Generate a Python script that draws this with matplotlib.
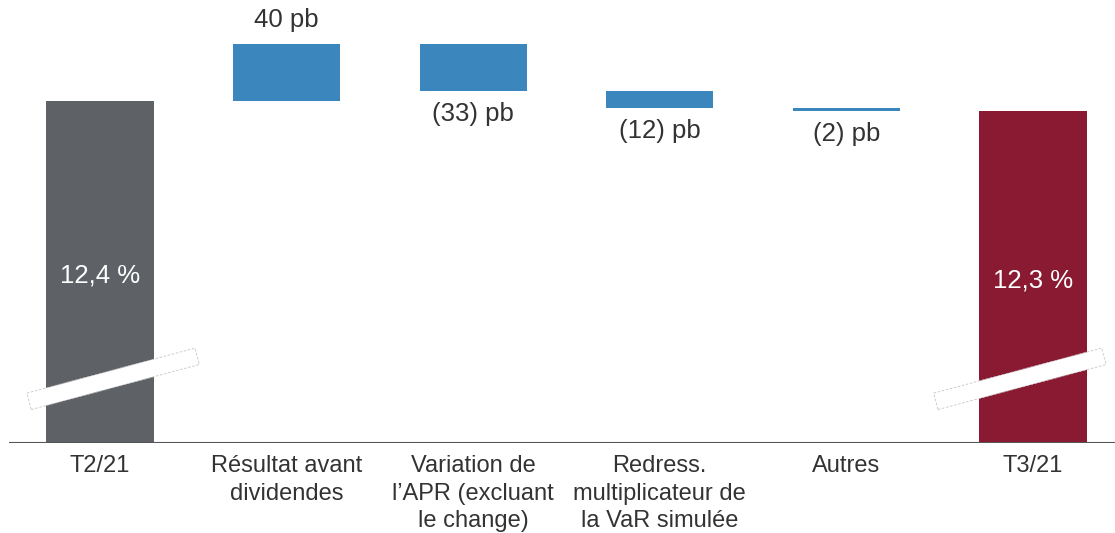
import matplotlib.pyplot as plt
import matplotlib.transforms as mtransforms
from matplotlib.patches import Rectangle

plt.rcParams['font.family'] = ['Liberation Sans', 'DejaVu Sans']

# data (ratio in %, deltas in pb)
categories = ['T2/21', 'Résultat avant\ndividendes', 'Variation de\nl\u2019APR (excluant\nle change)',
              'Redress.\nmultiplicateur de\nla VaR simulée', 'Autres', 'T3/21']
start_value = 12.4
end_value = 12.3
deltas_pb = [40, -33, -12, -2]
value_labels = ['12,4 %', '40 pb', '(33) pb', '(12) pb', '(2) pb', '12,3 %']

grey = '#5e6165'
red = '#8a1a32'
blue = '#3a86bd'
y_base = 10.0

fig = plt.figure(figsize=(11.15, 5.33), dpi=100)
ax = fig.add_axes([0, 0.169, 1, 0.831])
ax.set_xlim(-0.536, 5.44)
ax.set_ylim(y_base, 13.11)
ax.axis('off')

w = 0.575
x = list(range(len(categories)))

# end bars
end_level = start_value + sum(deltas_pb) / 100.0
ax.bar(x[0], start_value - y_base, bottom=y_base, width=w, color=grey, zorder=2)
ax.bar(x[-1], end_level - y_base, bottom=y_base, width=w, color=red, zorder=2)

# floating deltas
level = start_value
for i, d in enumerate(deltas_pb):
    new_level = level + d / 100.0
    lo, hi = min(level, new_level), max(level, new_level)
    ax.bar(x[i + 1], hi - lo, bottom=lo, width=w, color=blue, zorder=2)
    if d > 0:
        ax.annotate(value_labels[i + 1], (x[i + 1], hi), xytext=(0, 9), textcoords='offset points',
                    ha='center', va='bottom', fontsize=18.5, color='#333333')
    else:
        ax.annotate(value_labels[i + 1], (x[i + 1], lo), xytext=(0, -8), textcoords='offset points',
                    ha='center', va='top', fontsize=18.5, color='#333333')
    level = new_level

# values inside end bars + axis break bands
for xi, top, lab, shift in [(x[0], start_value, value_labels[0], 0.07),
                            (x[-1], end_level, value_labels[-1], -0.07)]:
    ax.text(xi, y_base + 0.49 * (top - y_base), lab, ha='center', va='center',
            fontsize=18.5, color='white', zorder=4)
    tr = (mtransforms.Affine2D().rotate_deg(15)
          + mtransforms.ScaledTranslation(xi + shift, y_base + 0.45, ax.transData))
    band = Rectangle((-87, -8.5), 174, 17, transform=tr, facecolor='white',
                     edgecolor='#c4c4c4', lw=0.6, linestyle=(0, (3, 2)), zorder=5)
    ax.add_patch(band)

# baseline
ax.hlines(y_base, -0.49, 5.44, color='#555555', lw=1.5, zorder=3)

# category labels
for xi, cat in zip(x, categories):
    ax.annotate(cat, (xi, y_base), xytext=(0, -9), textcoords='offset points',
                ha='center', va='top', fontsize=17, color='#333333', linespacing=1.32)

fig.savefig('out.png', dpi=100)
